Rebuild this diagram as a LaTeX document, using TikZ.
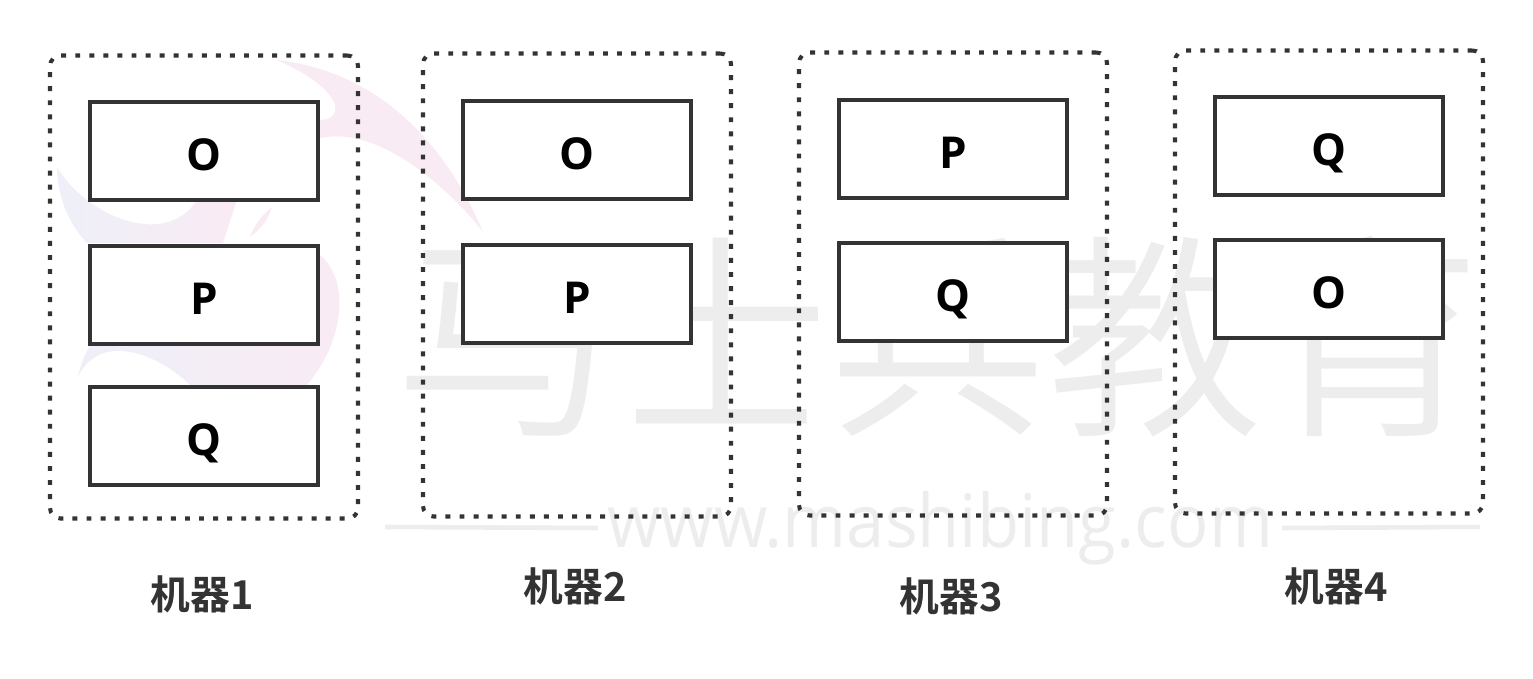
\documentclass[tikz,border=0pt]{standalone}
\usepackage{xcolor}
\usepackage{fontspec}
\setmainfont{Open Sans}
\newfontfamily\cjkbold[BoldFont=Noto Sans CJK SC Bold]{Noto Sans CJK SC}
\newfontfamily\cjklight{Noto Sans CJK SC DemiLight}
\newfontfamily\urlfont{Open Sans}
\definecolor{inkgray}{HTML}{333333}
\definecolor{markgray}{HTML}{EDEDED}
\definecolor{markpink}{HTML}{F9EBF4}
\definecolor{markblue}{HTML}{EEEFF8}
\tikzset{
  machine/.style={draw=inkgray,line width=1.15pt,rounded corners=3pt,dash pattern=on 1.4pt off 2.6pt,minimum width=308\unitlength,minimum height=463\unitlength},
  part/.style={draw=inkgray,line width=1.15pt,fill=white,minimum width=228\unitlength,minimum height=98\unitlength,text height=11.2pt,text depth=0pt,font=\fontsize{12.5}{15}\selectfont\bfseries},
  caption/.style={text=inkgray,font=\cjkbold\fontsize{11.3}{14}\selectfont\bfseries},
  logopart/.style={left color=markblue,right color=markpink,draw=none},
}
\setlength{\unitlength}{0.01cm}
\begin{document}
\begin{tikzpicture}[x=0.01cm,y=-0.01cm]
\useasboundingbox (0,0) rectangle (1533,679);
% logo behind the boxes
\fill[markpink] (277,60) .. controls (367,70) and (440,130) .. (483,232) .. controls (450,190) and (380,125) .. (320,138) -- (320,120) .. controls (345,120) and (345,90) .. (277,60) -- cycle;
\path[logopart] (57,167) .. controls (85,215) and (165,250) .. (197,200) -- (237,200) -- (223,243) -- (87,243) .. controls (65,220) and (57,190) .. (57,167) -- cycle;
\fill[markpink] (272,207) .. controls (268,220) and (262,228) .. (250,237) .. controls (254,225) and (262,215) .. (272,207) -- cycle;
\path[logopart] (78,377) .. controls (80,365) and (85,355) .. (90,345) -- (320,255) .. controls (350,280) and (345,340) .. (307,385) -- (190,385) .. controls (160,355) and (100,330) .. (78,377) -- cycle;
% watermark text
\node[text=markgray,font=\cjklight\fontsize{61.8}{61.8}\selectfont,inner sep=0pt] (marktext) at (938,337) {马士兵教育};
\node[text=markgray,font=\urlfont\fontsize{21}{21}\selectfont,inner sep=0pt,outer sep=2.8pt,xscale=0.93] (markurl) at (940,528) {www.mashibing.com};
\coordinate (markla) at (385,527);
\coordinate (marklb) at (1480,527);
\draw[markgray,line width=1.3pt] (markla) -- (markurl.west);
\draw[markgray,line width=1.3pt] (markurl.east) -- (marklb);
% machines
\node[machine] (mach1) at (204,287) {};
\node[machine] (mach2) at (577,285) {};
\node[machine] (mach3) at (953,284) {};
\node[machine] (mach4) at (1329,282) {};
% parts
\node[part] (o1) at (204,151) {O};
\node[part] (p1) at (204,295) {P};
\node[part] (q1) at (204,436) {Q};
\node[part] (o2) at (577,150) {O};
\node[part] (p2) at (577,294) {P};
\node[part] (p3) at (953,149) {P};
\node[part] (q3) at (953,292) {Q};
\node[part] (q4) at (1329,146) {Q};
\node[part] (o4) at (1329,289) {O};
% captions
\node[caption] (cap1) at (202,594) {机器1};
\node[caption] (cap2) at (575,586) {机器2};
\node[caption] (cap3) at (951,596) {机器3};
\node[caption] (cap4) at (1336,586) {机器4};
\end{tikzpicture}
\end{document}
